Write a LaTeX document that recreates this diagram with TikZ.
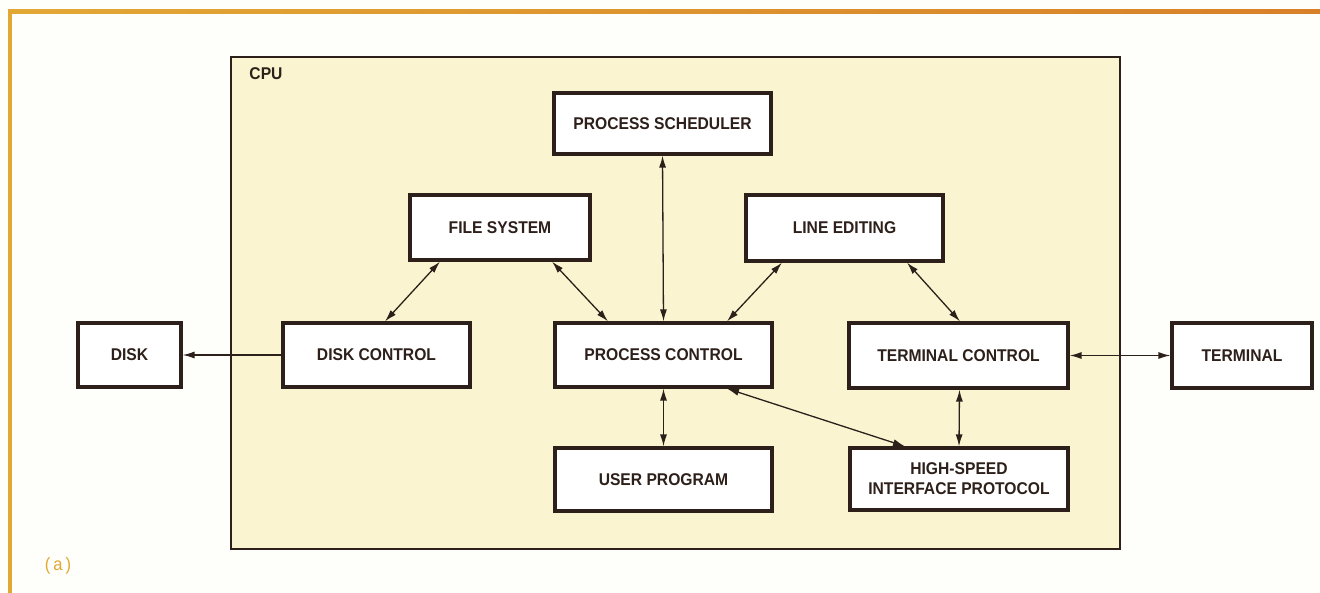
\documentclass[tikz,border=0pt]{standalone}
\usepackage{fontspec}
\setmainfont{Liberation Sans}[FakeStretch=0.92]
\usepackage{xcolor}
\definecolor{cpucream}{RGB}{251,244,208}
\definecolor{paper}{RGB}{254,254,251}
\definecolor{inkbrown}{RGB}{45,32,26}
\definecolor{framegold}{RGB}{226,168,52}
\definecolor{frameorange}{RGB}{216,128,40}
\usetikzlibrary{arrows.meta,positioning}

\begin{document}
\begin{tikzpicture}[x=1pt,y=-1pt,
  rbox/.style={draw=inkbrown,line width=3.2pt,fill=white,text=inkbrown,
    font=\fontsize{17}{20}\selectfont\bfseries,align=center,inner sep=0pt},
  arr/.style={{Latex[length=12pt,width=7pt]}-{Latex[length=12pt,width=7pt]},line width=1.3pt,draw=inkbrown},
  oarr/.style={-{Latex[length=12pt,width=7pt]},line width=1.3pt,draw=inkbrown}
]
  \useasboundingbox (0,0) rectangle (1320,593);
  \fill[paper] (0,0) rectangle (1320,593);
  % page frame
  \draw[framegold,line width=4pt] (10,593) -- (10,12);
  \shade[left color=framegold,right color=frameorange] (8,10) rectangle (1320,14);
  \node[font=\fontsize{18}{20}\selectfont,text=framegold] (fig) at (58,566) {(\,a\,)};

  % CPU
  \node[draw=inkbrown,line width=2.8pt,fill=cpucream,minimum width=889pt,minimum height=492pt,
    inner sep=0pt] (cpu) at (675.5,303) {};
  \node[font=\fontsize{17}{19}\selectfont\bfseries,text=inkbrown] (cpulbl) at (266,74) {CPU};

  \node[rbox,minimum width=217pt,minimum height=61pt] (sched) at (662.5,123.5) {PROCESS SCHEDULER};
  \node[rbox,minimum width=180pt,minimum height=65pt] (filesys) at (500,227.5) {FILE SYSTEM};
  \node[rbox,minimum width=197pt,minimum height=66pt] (lineed) at (844.5,228) {LINE EDITING};
  \node[rbox,minimum width=187pt,minimum height=64pt] (diskctl) at (376.5,355) {DISK CONTROL};
  \node[rbox,minimum width=217pt,minimum height=64pt] (procctl) at (663.5,355) {PROCESS CONTROL};
  \node[rbox,minimum width=219pt,minimum height=65pt] (termctl) at (958.5,355.5) {TERMINAL CONTROL};
  \node[rbox,minimum width=217pt,minimum height=63pt] (userprog) at (663.5,479.5) {USER PROGRAM};
  \node[rbox,minimum width=218pt,minimum height=62pt] (hsip) at (959,479) {HIGH-SPEED\\INTERFACE PROTOCOL};
  \node[rbox,minimum width=103pt,minimum height=64pt] (disk) at (129.5,355) {DISK};
  \node[rbox,minimum width=140pt,minimum height=65pt] (term) at (1242,355.5) {TERMINAL};

  \draw[oarr] (diskctl.west) -- (disk.east);
  \draw[arr] (termctl.east) -- (term.west);
  \draw[arr] ([xshift=8.5pt]diskctl.north) -- ([xshift=-60pt]filesys.south);
  \draw[arr] ([xshift=52pt]filesys.south) -- ([xshift=-55.5pt]procctl.north);
  \draw[arr] (sched.south) -- (procctl.north);
  \draw[arr] ([xshift=-62.5pt]lineed.south) -- ([xshift=63.5pt]procctl.north);
  \draw[arr] ([xshift=62.5pt]lineed.south) -- ([xshift=1.5pt]termctl.north);
  \draw[arr] (procctl.south) -- (userprog.north);
  \draw[arr] ([xshift=63.5pt]procctl.south) -- ([xshift=-54pt]hsip.north);
  \draw[arr] ([xshift=1pt]termctl.south) -- (hsip.north);
\end{tikzpicture}
\end{document}
